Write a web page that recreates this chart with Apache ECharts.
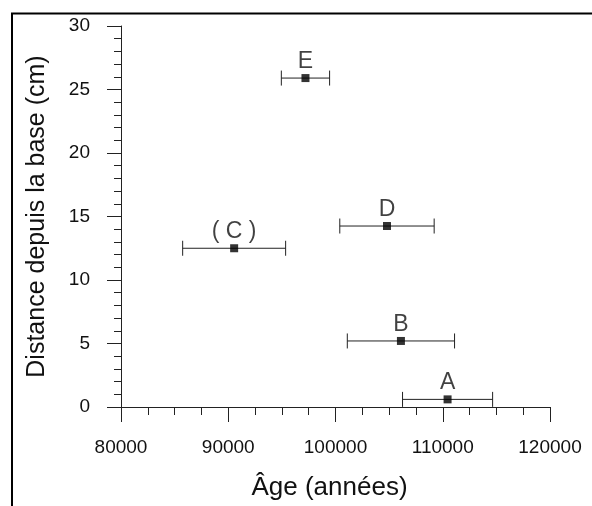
<!DOCTYPE html>
<html>
<head>
<meta charset="utf-8">
<script src="https://cdn.jsdelivr.net/npm/echarts@6/dist/echarts.min.js"></script>
<style>
html,body{margin:0;padding:0;background:#fff;}
#chart{width:592px;height:506px;}
</style>
</head>
<body>
<div id="chart"></div>
<script>
const sampleLabels = ['A', 'B', '( C )', 'D', 'E'];
const ages = [110450, 106100, 90550, 104800, 97200];
const ageErrors = [4200, 5000, 4800, 4400, 2250];
const distances = [0.6, 5.2, 12.5, 14.25, 25.9];
const xTicks = [80000, 90000, 100000, 110000, 120000];
const yTicks = [0, 5, 10, 15, 20, 25, 30];

const FONT = 'Liberation Sans';
const chart = echarts.init(document.getElementById('chart'));

const pointData = ages.map((a, i) => [a, distances[i], sampleLabels[i]]);
const errData = ages.map((a, i) => [a - ageErrors[i], a + ageErrors[i], distances[i]]);

chart.setOption({
  animation: false,
  backgroundColor: '#fff',
  graphic: [{
    type: 'rect',
    shape: { x: 12, y: 13.5, width: 700, height: 700 },
    style: { fill: 'none', stroke: '#000', lineWidth: 2 },
    silent: true
  }],
  grid: { left: 121, right: 42, top: 26, bottom: 98 },
  xAxis: {
    type: 'value',
    min: xTicks[0], max: xTicks[xTicks.length - 1], interval: 10000,
    name: 'Âge (années)', nameLocation: 'middle', nameGap: 68,
    nameTextStyle: { fontFamily: FONT, fontSize: 26, color: '#111', padding: [0, 12, 0, 0] },
    axisLine: { show: true, onZero: false, lineStyle: { color: '#222', width: 1 } },
    axisTick: { show: true, inside: false, length: 15, lineStyle: { color: '#222' } },
    minorTick: { show: true, splitNumber: 4, length: 8, lineStyle: { color: '#222' } },
    axisLabel: { fontFamily: FONT, fontSize: 19, color: '#111', margin: 31, formatter: v => String(v) },
    splitLine: { show: false }, minorSplitLine: { show: false }
  },
  yAxis: {
    type: 'value',
    min: yTicks[0], max: yTicks[yTicks.length - 1], interval: 5,
    name: 'Distance depuis la base (cm)', nameLocation: 'middle', nameGap: 71,
    nameTextStyle: { fontFamily: FONT, fontSize: 25, color: '#111' },
    axisLine: { show: true, onZero: false, lineStyle: { color: '#222', width: 1 } },
    axisTick: { show: true, inside: false, length: 14, lineStyle: { color: '#222' } },
    minorTick: { show: true, splitNumber: 5, length: 7, lineStyle: { color: '#222' } },
    axisLabel: { fontFamily: FONT, fontSize: 19, color: '#111', margin: 31, formatter: v => String(v) },
    splitLine: { show: false }, minorSplitLine: { show: false }
  },
  series: [
    {
      type: 'custom',
      data: errData,
      encode: { x: [0, 1], y: 2 },
      renderItem: function (params, api) {
        const y = api.value(2);
        const lo = api.coord([api.value(0), y]);
        const hi = api.coord([api.value(1), y]);
        const h = 7.5;
        const st = { stroke: '#222', lineWidth: 1 };
        return {
          type: 'group',
          children: [
            { type: 'line', shape: { x1: lo[0], y1: lo[1], x2: hi[0], y2: hi[1] }, style: st },
            { type: 'line', shape: { x1: lo[0], y1: lo[1] - h, x2: lo[0], y2: lo[1] + h }, style: st },
            { type: 'line', shape: { x1: hi[0], y1: hi[1] - h, x2: hi[0], y2: hi[1] + h }, style: st }
          ]
        };
      },
      z: 2
    },
    {
      type: 'scatter',
      data: pointData,
      symbol: 'rect',
      symbolSize: 8,
      itemStyle: { color: '#000' },
      label: {
        show: true, position: 'top', distance: 1,
        formatter: p => p.value[2],
        fontFamily: FONT, fontSize: 23, color: '#111'
      },
      z: 3
    }
  ]
});
</script>
</body>
</html>
